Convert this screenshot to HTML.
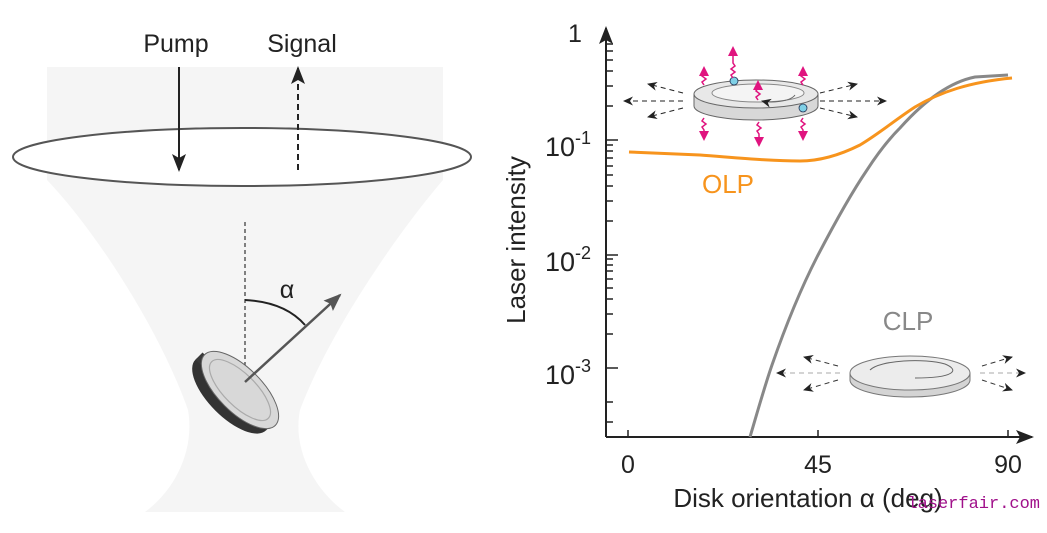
<!DOCTYPE html>
<html><head><meta charset="utf-8"><style>
html,body{margin:0;padding:0;background:#fff;}
svg{display:block;font-family:"Liberation Sans","DejaVu Sans",sans-serif;}
</style></head><body>
<svg width="1047" height="533" viewBox="0 0 1047 533" xmlns="http://www.w3.org/2000/svg">
<defs>
<marker id="ah" markerWidth="14" markerHeight="16" refX="12" refY="8" orient="auto" markerUnits="userSpaceOnUse"><path d="M0,0 L14,8 L0,16 L3,8 Z" fill="#222"/></marker>
<marker id="ahb" markerWidth="18" markerHeight="14" refX="16" refY="7" orient="auto" markerUnits="userSpaceOnUse"><path d="M0,0 L18,7 L0,14 L4,7 Z" fill="#222"/></marker>
<marker id="ahg" markerWidth="18" markerHeight="14" refX="16" refY="7" orient="auto" markerUnits="userSpaceOnUse"><path d="M0,0 L18,7 L0,14 L3,7 Z" fill="#555"/></marker>
<marker id="ahs" markerWidth="10" markerHeight="9" refX="9" refY="4.5" orient="auto" markerUnits="userSpaceOnUse"><path d="M0,0 L10,4.5 L0,9 L3,4.5 Z" fill="#222"/></marker>
<marker id="ahp" markerWidth="10" markerHeight="10" refX="8" refY="5" orient="auto" markerUnits="userSpaceOnUse"><path d="M0,0 L10,5 L0,10 Z" fill="#e0147f"/></marker>
</defs>
<!-- beam -->
<path d="M47,67 L443,67 L443,180 C400,230 330,330 300,410 C292,450 315,490 345,512 L145,512 C175,490 195,450 188,410 C160,330 95,230 47,180 Z" fill="#f5f5f5"/>
<ellipse cx="242" cy="157" rx="229" ry="29" fill="#fff" stroke="#555" stroke-width="2"/>
<text x="176" y="52" font-size="25" text-anchor="middle" fill="#222">Pump</text>
<text x="302" y="52" font-size="25" text-anchor="middle" fill="#222">Signal</text>
<line x1="179" y1="67" x2="179" y2="170" stroke="#222" stroke-width="2" marker-end="url(#ahb)"/>
<line x1="298" y1="170" x2="298" y2="68" stroke="#222" stroke-width="2" stroke-dasharray="6,4" marker-end="url(#ahb)"/>
<line x1="245" y1="222" x2="245" y2="382" stroke="#333" stroke-width="1.2" stroke-dasharray="4,3"/>
<path d="M245,300 Q285,302 305,325" fill="none" stroke="#222" stroke-width="2"/>
<text x="287" y="298" font-size="25" text-anchor="middle" fill="#222">α</text>
<!-- disk -->
<g transform="translate(240,390) rotate(45)">
<ellipse cx="-3" cy="10" rx="50" ry="22" fill="#333"/>
<rect x="-53" y="0" width="100" height="10" fill="#3a3a3a"/>
<ellipse cx="0" cy="0" rx="50" ry="22" fill="#d8d8d8" stroke="#666" stroke-width="1"/>
<ellipse cx="0" cy="0" rx="40" ry="16" fill="none" stroke="#aaa" stroke-width="1.2"/>
</g>
<line x1="245" y1="382" x2="340" y2="295" stroke="#555" stroke-width="2.5" marker-end="url(#ahg)"/>
<!-- axes -->
<line x1="606" y1="437" x2="606" y2="28" stroke="#222" stroke-width="2" marker-end="url(#ahb)"/>
<line x1="606" y1="437" x2="1032" y2="437" stroke="#222" stroke-width="2" marker-end="url(#ahb)"/>
<g stroke="#222" stroke-width="1.5">
<line x1="628" y1="437" x2="628" y2="430"/><line x1="818" y1="437" x2="818" y2="430"/><line x1="1008" y1="437" x2="1008" y2="430"/>
<line x1="606" y1="140" x2="618" y2="140"/><line x1="606" y1="255" x2="618" y2="255"/><line x1="606" y1="368" x2="618" y2="368"/>
<path d="M606,106h7M606,86h7M606,71h7M606,60h7M606,51h7M606,44h7
M606,221h7M606,201h7M606,186h7M606,175h7M606,166h7M606,158h7M606,151h7M606,145h7
M606,334h7M606,314h7M606,299h7M606,288h7M606,279h7M606,271h7M606,265h7M606,259h7
M606,402h7M606,422h7"/>
</g>
<text x="575" y="42" font-size="25" text-anchor="middle" fill="#222">1</text>
<text x="545" y="156" font-size="27" fill="#222">10<tspan font-size="18" dy="-12">-1</tspan></text>
<text x="545" y="271" font-size="27" fill="#222">10<tspan font-size="18" dy="-12">-2</tspan></text>
<text x="545" y="384" font-size="27" fill="#222">10<tspan font-size="18" dy="-12">-3</tspan></text>
<text transform="translate(525,240) rotate(-90)" font-size="26" text-anchor="middle" fill="#222">Laser intensity</text>
<text x="628" y="473" font-size="25" text-anchor="middle" fill="#222">0</text>
<text x="818" y="473" font-size="25" text-anchor="middle" fill="#222">45</text>
<text x="1008" y="473" font-size="25" text-anchor="middle" fill="#222">90</text>
<text x="808" y="507" font-size="26" text-anchor="middle" fill="#222">Disk orientation α (deg)</text>
<text x="1040" y="508" font-family="Liberation Mono,monospace" font-size="17" text-anchor="end" fill="#a0108a">laserfair.com</text>
<!-- curves -->
<path d="M750,437 C758,410 765,385 772,365 C780,342 795,300 817,257 C830,232 850,195 867,170 C880,150 890,138 900,128 C925,100 950,82 975,77 L1008,75" fill="none" stroke="#888" stroke-width="3"/>
<path d="M629,152 L700,155 C740,158 770,161 800,161 C820,161 840,155 860,145 C880,133 895,120 915,107 C940,92 970,82 1012,78" fill="none" stroke="#f7941d" stroke-width="3"/>
<text x="728" y="193" font-size="26" text-anchor="middle" fill="#f7941d">OLP</text>
<text x="908" y="330" font-size="26" text-anchor="middle" fill="#888">CLP</text>
<!-- CLP disk -->
<g>
<path d="M850,373 L850,380 A60,17 0 0 0 970,380 L970,373 Z" fill="#d4d4d4" stroke="#777" stroke-width="1"/>
<ellipse cx="910" cy="373" rx="60" ry="17" fill="#ececec" stroke="#777" stroke-width="1"/>
<path d="M915,378 C955,378 960,370 945,364 C925,358 880,360 870,370" fill="none" stroke="#666" stroke-width="1"/>
<line x1="840" y1="373" x2="777" y2="373" stroke="#aaa" stroke-width="1" stroke-dasharray="5,4" marker-end="url(#ahs)"/>
<line x1="980" y1="373" x2="1025" y2="373" stroke="#aaa" stroke-width="1" stroke-dasharray="5,4" marker-end="url(#ahs)"/>
<line x1="838" y1="366" x2="804" y2="357" stroke="#333" stroke-width="1" stroke-dasharray="5,4" marker-end="url(#ahs)"/>
<line x1="838" y1="380" x2="804" y2="390" stroke="#333" stroke-width="1" stroke-dasharray="5,4" marker-end="url(#ahs)"/>
<line x1="982" y1="366" x2="1012" y2="357" stroke="#333" stroke-width="1" stroke-dasharray="5,4" marker-end="url(#ahs)"/>
<line x1="982" y1="380" x2="1012" y2="390" stroke="#333" stroke-width="1" stroke-dasharray="5,4" marker-end="url(#ahs)"/>
</g>
<!-- OLP ring -->
<g>
<path d="M694,94 L694,106 A62,14 0 0 0 818,106 L818,94 Z" fill="#d8d8d8" stroke="#666" stroke-width="1"/>
<ellipse cx="756" cy="94" rx="62" ry="14" fill="#e8e8e8" stroke="#666" stroke-width="1"/>
<ellipse cx="758" cy="93" rx="46" ry="9" fill="#f4f4f4" stroke="#888" stroke-width="1"/>
<path d="M795,95 C790,102 770,103 762,101" fill="none" stroke="#666" stroke-width="1" marker-end="url(#ahs)"/>
<circle cx="734" cy="81" r="4" fill="#7fd0e6" stroke="#235" stroke-width="0.8"/>
<circle cx="803" cy="108" r="4" fill="#7fd0e6" stroke="#235" stroke-width="0.8"/>
<g stroke="#222" stroke-width="1" stroke-dasharray="5,4">
<line x1="683" y1="101" x2="624" y2="101" marker-end="url(#ahs)"/>
<line x1="683" y1="93" x2="648" y2="84" marker-end="url(#ahs)"/>
<line x1="683" y1="108" x2="648" y2="117" marker-end="url(#ahs)"/>
<line x1="820" y1="101" x2="886" y2="101" marker-end="url(#ahs)"/>
<line x1="820" y1="93" x2="857" y2="84" marker-end="url(#ahs)"/>
<line x1="820" y1="108" x2="857" y2="117" marker-end="url(#ahs)"/>
</g>
<g stroke="#e0147f" stroke-width="1.5" fill="none">
<path d="M733,78 l-2,-3 l4,-3 l-4,-3 l4,-3 l-2,-3 L733,48" marker-end="url(#ahp)"/>
<path d="M704,85 l-2,-3 l4,-3 l-4,-3 l2,-3 L704,68" marker-end="url(#ahp)"/>
<path d="M803,85 l-2,-3 l4,-3 l-4,-3 l2,-3 L803,68" marker-end="url(#ahp)"/>
<path d="M758,100 l-2,-3 l4,-3 l-4,-3 l2,-3 L758,82" marker-end="url(#ahp)"/>
<path d="M704,118 l-2,3 l4,3 l-4,3 l2,3 L704,139" marker-end="url(#ahp)"/>
<path d="M759,122 l-2,3 l4,3 l-4,3 l2,3 L759,145" marker-end="url(#ahp)"/>
<path d="M803,118 l-2,3 l4,3 l-4,3 l2,3 L803,139" marker-end="url(#ahp)"/>
</g>
</g>
</svg>
</body></html>
